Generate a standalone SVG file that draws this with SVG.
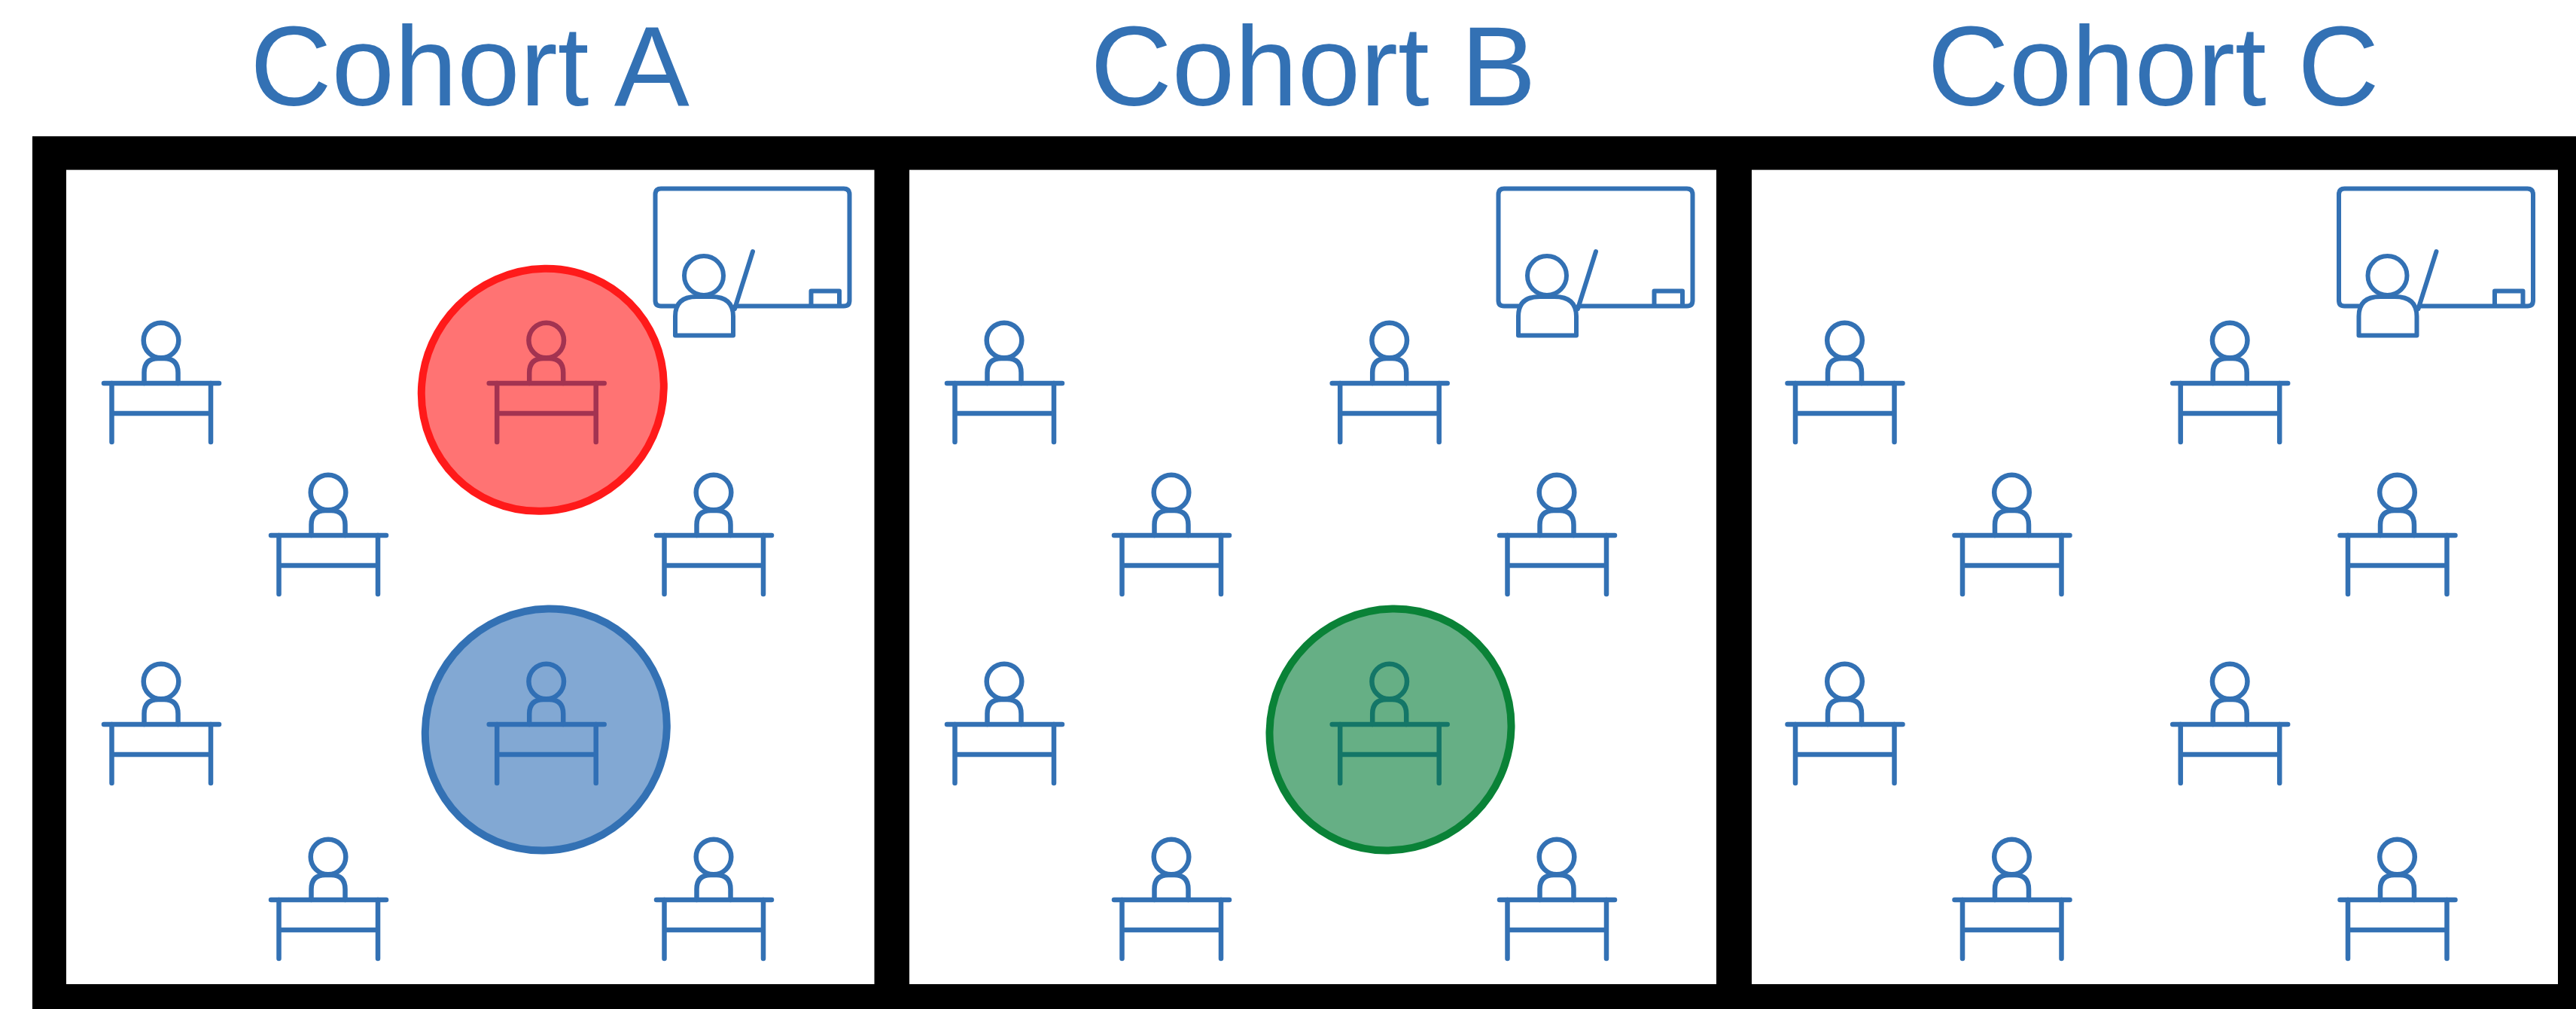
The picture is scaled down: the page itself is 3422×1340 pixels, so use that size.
<svg xmlns="http://www.w3.org/2000/svg" width="3422" height="1340" viewBox="0 0 3422 1340">
<style>
.line{fill:none;stroke:#3371B4;stroke-linecap:round;stroke-linejoin:round}
.title{font-family:"Liberation Sans",Arial,sans-serif;font-size:150px;fill:#3371B4;text-anchor:middle}
.room{fill:#fff}
</style>
<defs>
<g id="desk" class="line" stroke-width="6.5">
<circle cx="0" cy="0" r="23.3"/>
<path d="M-22.5 57V43Q-22.5 24 -4 24H4Q22.5 24 22.5 43V57"/>
<path d="M-76 57H77"/>
<path d="M-65.5 57V135M66 57V135M-65.5 97H66"/>
</g>
<g id="teacher" class="line" stroke-width="6">
<path d="M897 406.5H878Q870.5 406.5 870.5 399V258Q870.5 250.5 878 250.5H1121Q1128.5 250.5 1128.5 258V399Q1128.5 406.5 1121 406.5H977"/>
<path d="M1077.5 406V386.5H1115V406"/>
<path d="M1000 334L976 410"/>
<circle cx="935" cy="366" r="26"/>
<path d="M897 445.5V420Q897 394 925 394H945Q974 394 974 420V445.5Z"/>
</g>
</defs>
<rect id="frame" x="43" y="181" width="3379" height="1159" fill="#000"/>
<text class="title" x="624" y="140">Cohort A</text>
<text class="title" x="1744.5" y="140">Cohort B</text>
<text class="title" x="2860.5" y="140">Cohort C</text>
<g id="cohort-a">
<rect class="room" x="88" y="225.6" width="1073.5" height="1081.4"/>
<use href="#teacher"/>
<use href="#desk" x="214" y="452"/><use href="#desk" x="725.7" y="452"/>
<use href="#desk" x="436" y="654"/><use href="#desk" x="948" y="654"/>
<use href="#desk" x="214" y="905"/><use href="#desk" x="725.7" y="905"/>
<use href="#desk" x="436" y="1138"/><use href="#desk" x="948" y="1138"/>
<ellipse id="red-circle" cx="720.8" cy="517.8" rx="163.5" ry="158.5" transform="rotate(-45 720.8 517.8)" fill="#FF0000" fill-opacity=".55" stroke="#FF1A1A" stroke-width="10"/>
<ellipse id="blue-circle" cx="725.3" cy="969" rx="163" ry="158" transform="rotate(-45 725.3 969)" fill="#2F6EB5" fill-opacity=".6" stroke="#3371B4" stroke-width="10"/>
</g>
<g id="cohort-b" transform="translate(1120 0)">
<rect class="room" x="88" y="225.6" width="1072" height="1081.4"/>
<use href="#teacher"/>
<use href="#desk" x="214" y="452"/><use href="#desk" x="725.7" y="452"/>
<use href="#desk" x="436" y="654"/><use href="#desk" x="948" y="654"/>
<use href="#desk" x="214" y="905"/><use href="#desk" x="725.7" y="905"/>
<use href="#desk" x="436" y="1138"/><use href="#desk" x="948" y="1138"/>
<ellipse id="green-circle" cx="727" cy="969" rx="163" ry="158" transform="rotate(-45 727 969)" fill="#007A33" fill-opacity=".6" stroke="#0A8237" stroke-width="10"/>
</g>
<g id="cohort-c" transform="translate(2236.5 0)">
<rect class="room" x="90.5" y="225.6" width="1071" height="1081.4"/>
<use href="#teacher"/>
<use href="#desk" x="214" y="452"/><use href="#desk" x="725.7" y="452"/>
<use href="#desk" x="436" y="654"/><use href="#desk" x="948" y="654"/>
<use href="#desk" x="214" y="905"/><use href="#desk" x="725.7" y="905"/>
<use href="#desk" x="436" y="1138"/><use href="#desk" x="948" y="1138"/>
</g>
<g id="connectors"/>
</svg>
